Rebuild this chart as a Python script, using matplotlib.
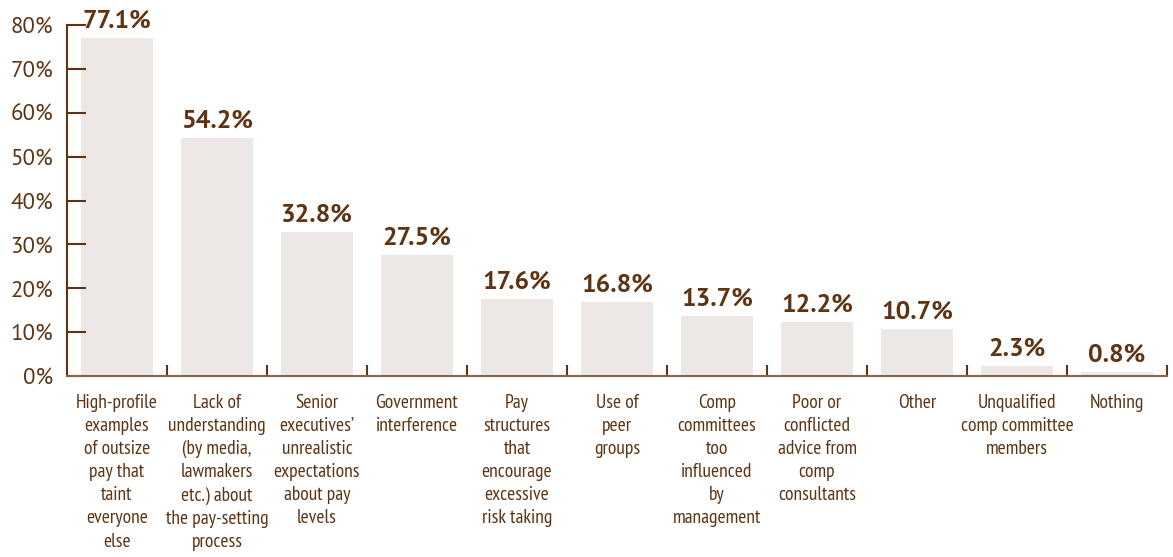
import numpy as np
import matplotlib.pyplot as plt
from matplotlib.ticker import FixedLocator, FuncFormatter

categories = [
    "High-profile\nexamples\nof outsize\npay that\ntaint\neveryone\nelse",
    "Lack of\nunderstanding\n(by media,\nlawmakers\netc.) about\nthe pay-setting\nprocess",
    "Senior\nexecutives\u2019\nunrealistic\nexpectations\nabout pay\nlevels",
    "Government\ninterference",
    "Pay\nstructures\nthat\nencourage\nexcessive\nrisk taking",
    "Use of\npeer\ngroups",
    "Comp\ncommittees\ntoo\ninfluenced\nby\nmanagement",
    "Poor or\nconflicted\nadvice from\ncomp\nconsultants",
    "Other",
    "Unqualified\ncomp committee\nmembers",
    "Nothing",
]
values = [77.1, 54.2, 32.8, 27.5, 17.6, 16.8, 13.7, 12.2, 10.7, 2.3, 0.8]
yticks = [0, 10, 20, 30, 40, 50, 60, 70, 80]

brown = "#5e3413"
bar_color = "#ede8e5"
narrow = ["PT Sans Narrow", "DejaVu Sans"]
regular = ["PT Sans", "DejaVu Sans"]

fig = plt.figure(figsize=(11.73, 5.57), dpi=100)
ax = fig.add_axes([67 / 1173, 181 / 557, 1100 / 1173, 351 / 557])

x = np.arange(len(values))
ax.bar(x, values, width=0.72, color=bar_color, zorder=1)

for xi, v in zip(x, values):
    ax.annotate(f"{v}%", (xi, v), xytext=(0, 4), textcoords="offset points",
                ha="center", va="bottom", fontsize=18.5, fontweight="bold",
                color=brown, family=regular, annotation_clip=False)

ax.set_xlim(-0.5, len(values) - 0.5)
ax.set_ylim(0, 80)

# category labels under each bar, ticks between categories
for xi, lab in zip(x, categories):
    ax.text(xi, -4.0, lab, ha="center", va="top", fontsize=14, color=brown,
            family=narrow, linespacing=1.37)
ax.xaxis.set_major_locator(FixedLocator(np.arange(0.5, len(values), 1.0)))
ax.set_xticklabels([])
ax.tick_params(axis="x", direction="in", length=8, width=1.5, color=brown)

ax.yaxis.set_major_locator(FixedLocator(yticks))
ax.yaxis.set_major_formatter(FuncFormatter(lambda v, p: f"{v:.0f}%"))
ax.tick_params(axis="y", direction="in", length=14, width=1.5, color=brown,
               labelsize=16.5, labelcolor=brown, pad=10)
for lab in ax.get_yticklabels():
    lab.set_family(regular)

for s in ["top", "right"]:
    ax.spines[s].set_visible(False)
ax.spines["left"].set_color(brown)
ax.spines["left"].set_linewidth(1.5)
ax.spines["bottom"].set_color("#8a6446")
ax.spines["bottom"].set_linewidth(1.5)

fig.savefig("out.png", dpi=100)
